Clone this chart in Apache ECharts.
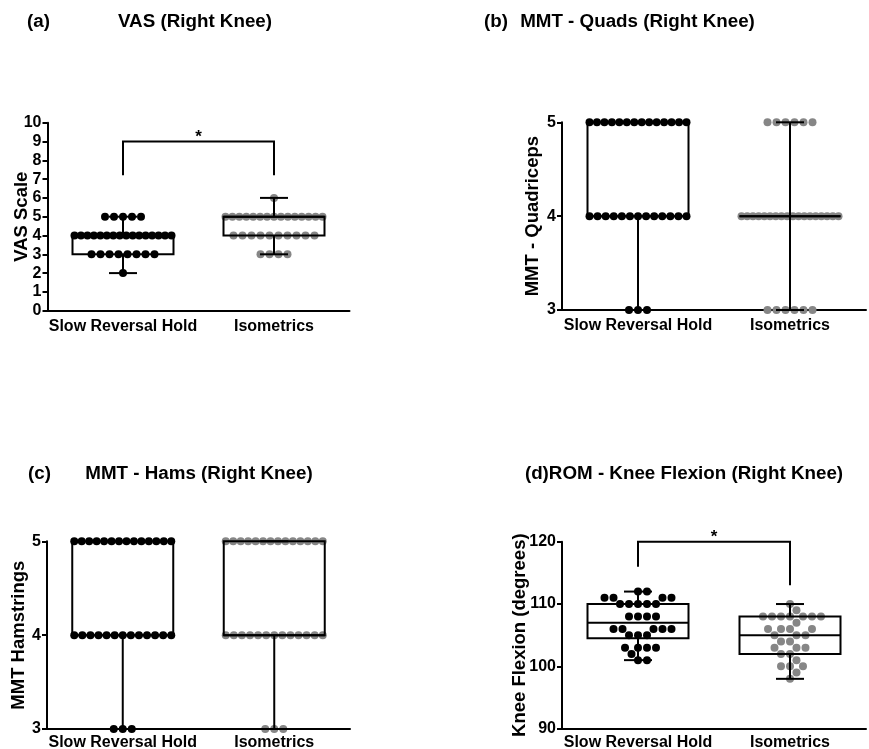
<!DOCTYPE html>
<html><head><meta charset="utf-8">
<script src="https://cdn.jsdelivr.net/npm/echarts@6/dist/echarts.min.js"></script>
<style>html,body{margin:0;padding:0;background:#fff}#c{width:869px;height:749px}</style>
</head><body><div id="c"></div>
<script>
// ---------------- DATA ----------------
const categories = ['Slow Reversal Hold', 'Isometrics'];

// (a) VAS
const vasSRH = [2,3,3,3,3,3,3,3,3,4,4,4,4,4,4,4,4,4,4,4,4,4,4,4,4,5,5,5,5,5];
const vasISO = [3,3,3,3,4,4,4,4,4,4,4,4,4,4,5,5,5,5,5,5,5,5,5,5,5,5,5,5,5,6];
const vasBox = [[2,3,4,4,5],[3,4,5,5,6]];          // min, Q1, median, Q3, max
const vasTicks = [0,1,2,3,4,5,6,7,8,9,10];
const vasSig = [0, 1, 9, 7.2, 7.2];                // from, to, top, left leg end, right leg end

// (b) MMT Quads
const quadSRH = [3,3,3,4,4,4,4,4,4,4,4,4,4,4,4,4,5,5,5,5,5,5,5,5,5,5,5,5,5,5];
const quadISO = [3,3,3,3,3,3,4,4,4,4,4,4,4,4,4,4,4,4,4,4,4,4,4,4,5,5,5,5,5,5];
const quadBox = [[3,4,4,5,5],[3,4,4,4,5]];
const quadTicks = [3,4,5];

// (c) MMT Hams
const hamSRH = [3,3,3,4,4,4,4,4,4,4,4,4,4,4,4,4,5,5,5,5,5,5,5,5,5,5,5,5,5,5];
const hamISO = [3,3,3,4,4,4,4,4,4,4,4,4,4,4,4,4,5,5,5,5,5,5,5,5,5,5,5,5,5,5];
const hamBox = [[3,4,4,5,5],[3,4,4,5,5]];
const hamTicks = [3,4,5];

// (d) ROM knee flexion
const romSRH = [101,101,102,103,103,103,103,105,105,105,106,106,106,106,106,108,108,108,108,110,110,110,110,110,111,111,111,111,112,112];
const romISO = [98,99,100,100,100,101,102,102,103,103,103,104,104,105,105,105,106,106,106,106,107,108,108,108,108,108,108,108,109,110];
const romBox = [[101,104.5,107,110,112],[98,102,105,108,110]];
const romTicks = [90,100,110,120];
const romSig = [0, 1, 120, 116, 113];

const panelTitles = [
  ['(a)', 'VAS (Right Knee)'],
  ['(b)', 'MMT - Quads (Right Knee)'],
  ['(c)', 'MMT - Hams (Right Knee)'],
  ['(d)ROM - Knee Flexion (Right Knee)']
];
const yNames = ['VAS Scale', 'MMT - Quadriceps', 'MMT Hamstrings', 'Knee Flexion (degrees)'];

// ---------------- LAYOUT / STYLE ----------------
const FONT = '"Liberation Sans", Arial, Helvetica, sans-serif';
const TFONT = '"Liberation Sans Narrow", "Arial Narrow", "Liberation Sans", Arial, sans-serif';
const BLACK = '#000000', GRAY = '#868686';
const BOX_W = 101, CAP_W = 28, DOT = 8, DIAM = 9, ROW_MAX = 97;

const panels = [
  {grid:{left:47.5, top:122.7, width:302, height:188}, ticks:vasTicks, nameGap:16, srh:vasSRH, iso:vasISO, box:vasBox, layout:'rows', sig:vasSig, lm:8},
  {grid:{left:562, top:122.3, width:304, height:187.7}, ticks:quadTicks, nameGap:20, srh:quadSRH, iso:quadISO, box:quadBox, layout:'rows', sig:null, lm:8},
  {grid:{left:47, top:541.3, width:303, height:187.7}, ticks:hamTicks, nameGap:19, srh:hamSRH, iso:hamISO, box:hamBox, layout:'rows', sig:null, lm:6},
  {grid:{left:562, top:541.7, width:304, height:187}, ticks:romTicks, nameGap:33, srh:romSRH, iso:romISO, box:romBox, layout:'swarm', sig:romSig, lm:6}
];

function rowOffsets(values) {
  const counts = new Map();
  values.forEach(v => counts.set(v, (counts.get(v) || 0) + 1));
  const pts = [];
  counts.forEach((n, v) => {
    const s = n > 1 ? Math.min(DIAM, ROW_MAX / (n - 1)) : 0;
    for (let i = 0; i < n; i++) pts.push({v, dx: (i - (n - 1) / 2) * s});
  });
  return pts;
}
function swarmOffsets(values, toPx) {
  const sorted = values.slice().sort((a, b) => a - b);
  const placed = [];
  sorted.forEach(v => {
    const y = toPx(v);
    const cands = [0];
    placed.forEach(p => {
      const dy = Math.abs(p.y - y);
      if (dy < DIAM) { const dx = Math.sqrt(DIAM * DIAM - dy * dy); cands.push(p.x + dx, p.x - dx); }
    });
    cands.sort((a, b) => (Math.abs(a) - Math.abs(b)) || (b - a));
    let x = 0;
    for (const c of cands) {
      if (placed.every(p => (p.x - c) ** 2 + (p.y - y) ** 2 >= DIAM * DIAM - 0.01)) { x = c; break; }
    }
    placed.push({v, x, y});
  });
  return placed.map(p => ({v: p.v, dx: p.x}));
}

// title font size fit
const cv = document.createElement('canvas').getContext('2d');
function tw(text, size) { cv.font = 'bold ' + size + 'px ' + TFONT; return cv.measureText(text).width; }
const tSize = ((238 / tw('MMT - Hams (Right Knee)', 100)) + (304 / tw('(d)ROM - Knee Flexion (Right Knee)', 100))) / 2 * 100;
const TF = 'bold ' + tSize.toFixed(2) + 'px ' + TFONT;

const chart = echarts.init(document.getElementById('c'), null, {renderer: 'canvas'});

function titleText(text, x, y, align) {
  return {type: 'text', x: x, y: y, style: {text: text, font: TF, fill: BLACK, align: align, verticalAlign: 'middle'}};
}

function baseOption() {
  return {
    animation: false,
    backgroundColor: '#fff',
    grid: panels.map(p => Object.assign({containLabel: false, outerBoundsMode: 'none'}, p.grid)),
    xAxis: panels.map((p, i) => ({
      type: 'category', gridIndex: i, data: categories, boundaryGap: true,
      axisLine: {lineStyle: {color: BLACK, width: 2}},
      axisTick: {alignWithLabel: true, length: 4, lineStyle: {color: BLACK, width: 2}},
      axisLabel: {color: BLACK, fontFamily: FONT, fontWeight: 'bold', fontSize: 16, margin: p.lm, interval: 0},
      splitLine: {show: false}
    })),
    yAxis: panels.map((p, i) => ({
      type: 'value', gridIndex: i,
      min: p.ticks[0], max: p.ticks[p.ticks.length - 1], interval: p.ticks[1] - p.ticks[0],
      name: yNames[i], nameLocation: 'middle', nameGap: p.nameGap, nameMoveOverlap: false,
      nameTextStyle: {color: BLACK, fontFamily: FONT, fontWeight: 'bold', fontSize: 18.5},
      axisLine: {show: true, lineStyle: {color: BLACK, width: 2}},
      axisTick: {show: true, length: 5, lineStyle: {color: BLACK, width: 2}},
      axisLabel: {color: BLACK, fontFamily: FONT, fontWeight: 'bold', fontSize: 16, margin: 6},
      splitLine: {show: false}
    })),
    graphic: [
      titleText(panelTitles[0][0], 27, 22, 'left'),
      titleText(panelTitles[0][1], 195, 22, 'center'),
      titleText(panelTitles[1][0], 484, 22, 'left'),
      titleText(panelTitles[1][1], 637.5, 22, 'center'),
      titleText(panelTitles[2][0], 28, 474, 'left'),
      titleText(panelTitles[2][1], 199, 474, 'center'),
      titleText(panelTitles[3][0], 684, 474, 'center')
    ],
    series: []
  };
}

chart.setOption(baseOption());

function boxSeries(p, i) {
  return {
    type: 'custom', xAxisIndex: i, yAxisIndex: i, z: 5, silent: true,
    data: p.box.map((b, k) => [k].concat(b)),
    encode: {x: 0, y: [1, 2, 3, 4, 5]},
    renderItem: (params, api) => {
      const k = api.value(0);
      const c = v => api.coord([k, v]);
      const mn = c(api.value(1)), q1 = c(api.value(2)), md = c(api.value(3)), q3 = c(api.value(4)), mx = c(api.value(5));
      const cx = mn[0], hw = BOX_W / 2, cw = CAP_W / 2;
      const st = {stroke: BLACK, lineWidth: 2, fill: 'none'};
      return {type: 'group', children: [
        {type: 'line', shape: {x1: cx, y1: q1[1], x2: cx, y2: mn[1]}, style: st},
        {type: 'line', shape: {x1: cx, y1: q3[1], x2: cx, y2: mx[1]}, style: st},
        {type: 'line', shape: {x1: cx - cw, y1: mn[1], x2: cx + cw, y2: mn[1]}, style: st},
        {type: 'line', shape: {x1: cx - cw, y1: mx[1], x2: cx + cw, y2: mx[1]}, style: st},
        {type: 'rect', shape: {x: cx - hw, y: q3[1], width: 2 * hw, height: q1[1] - q3[1]}, style: st},
        {type: 'line', shape: {x1: cx - hw, y1: md[1], x2: cx + hw, y2: md[1]}, style: st}
      ]};
    }
  };
}
function sigSeries(p, i) {
  return {
    type: 'custom', xAxisIndex: i, yAxisIndex: i, z: 6, silent: true,
    data: [p.sig],
    encode: {x: [0, 1], y: [2, 3, 4]},
    renderItem: (params, api) => {
      const a = api.value(0), b = api.value(1);
      const top = api.value(2), l = api.value(3), r = api.value(4);
      const p1 = api.coord([a, l]), p2 = api.coord([a, top]), p3 = api.coord([b, top]), p4 = api.coord([b, r]);
      return {type: 'group', children: [
        {type: 'polyline', shape: {points: [p1, p2, p3, p4]}, style: {stroke: BLACK, lineWidth: 2, fill: 'none'}},
        {type: 'text', style: {text: '*', x: (p2[0] + p3[0]) / 2, y: p2[1] - 4, align: 'center', verticalAlign: 'middle',
          font: 'bold 17px ' + FONT, fill: BLACK}}
      ]};
    }
  };
}
function dotSeries(p, i, values, k, color) {
  const pts = p.layout === 'rows' ? rowOffsets(values)
    : swarmOffsets(values, v => chart.convertToPixel({yAxisIndex: i}, v));
  return {
    type: 'scatter', xAxisIndex: i, yAxisIndex: i, z: 3, silent: true,
    symbol: 'circle', symbolSize: DOT, itemStyle: {color: color, opacity: 1},
    data: pts.map(pt => ({value: [k, pt.v], symbolOffset: [pt.dx, 0]}))
  };
}

const opt = baseOption();
panels.forEach((p, i) => {
  opt.series.push(dotSeries(p, i, p.srh, 0, BLACK));
  opt.series.push(dotSeries(p, i, p.iso, 1, GRAY));
  opt.series.push(boxSeries(p, i));
  if (p.sig) opt.series.push(sigSeries(p, i));
});
chart.setOption(opt, true);
</script>
</body></html>
